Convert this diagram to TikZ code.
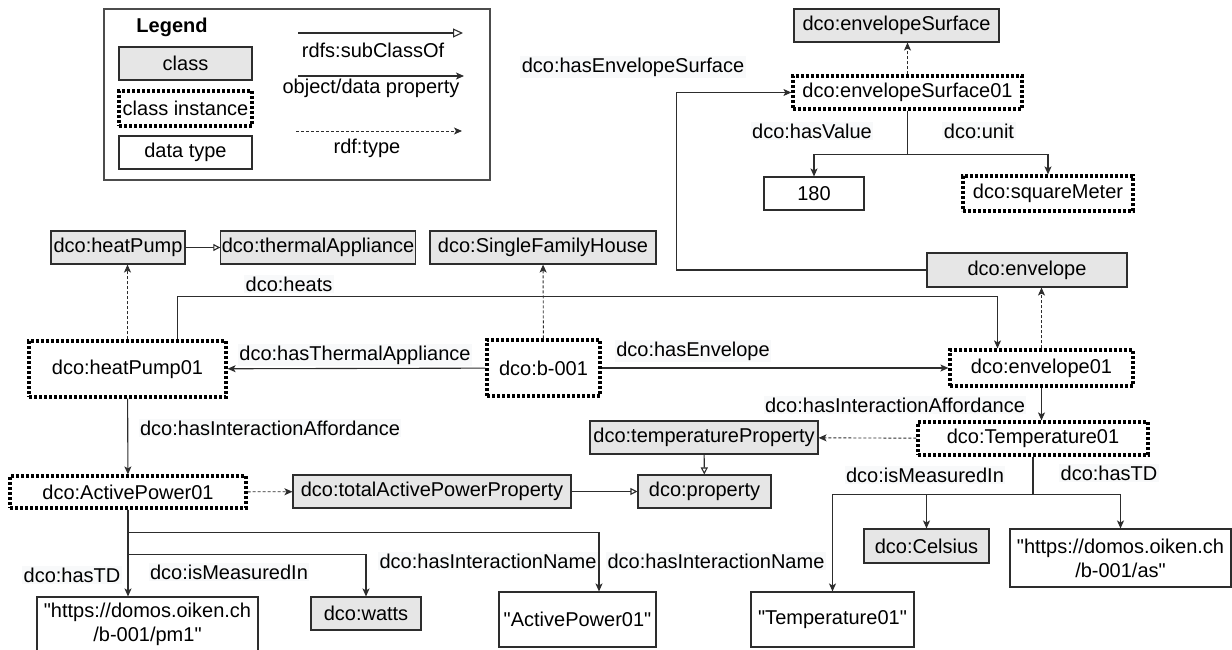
\documentclass[tikz,border=0pt]{standalone}
\usepackage{fontspec}
\setmainfont{Liberation Sans}
\usepackage{xcolor}
\usepackage{tikz}
\usetikzlibrary{arrows.meta}
\definecolor{classgray}{RGB}{230,230,230}
\definecolor{edgegray}{RGB}{45,45,45}
\definecolor{labelbg}{RGB}{248,249,250}
\tikzset{
  box/.style={draw=edgegray,line width=1.1pt,inner sep=1pt,align=center},
  classbox/.style={box,fill=classgray},
  instbox/.style={box,draw=black,line width=3.2pt,dash pattern=on 3pt off 2pt,fill=white},
  typebox/.style={box,fill=white},
  proplabel/.style={fill=labelbg,inner sep=1.5pt},
  objprop/.style={draw=edgegray,line width=1.1pt,-{Stealth[length=8pt,width=7pt,inset=2pt]}},
  rdftype/.style={objprop,line width=0.9pt,dash pattern=on 3pt off 2pt},
  subclass/.style={draw=edgegray,line width=1.1pt,-{Triangle[open,length=7pt,width=7pt,fill=white]}},
}
\newcommand{\qq}{\textquotedbl}

\begin{document}
\begin{tikzpicture}[x=1pt,y=-1pt,font=\fontsize{20}{24}\selectfont]
  \useasboundingbox (0,0) rectangle (1232,650);

  % legend
  \draw[draw=black!70,line width=1.1pt] (104,9) rectangle (490,180);
  \node[font={\fontsize{20}{24}\selectfont\bfseries}] (legendtitle) at (172,27) {Legend};
  \node[classbox,minimum width=133pt,minimum height=33pt] (keyclass) at (185.5,63.5) {class};
  \node[instbox,minimum width=133pt,minimum height=35pt] (keyinst) at (185.5,108.5) {class instance};
  \node[typebox,minimum width=133pt,minimum height=33pt] (keytype) at (185.5,152.5) {data type};
  \coordinate (subA) at (298,33);
  \coordinate (subB) at (463,33);
  \coordinate (propA) at (298,76);
  \coordinate (propB) at (464,76);
  \coordinate (typeA) at (296,131);
  \coordinate (typeB) at (462,131);
  \draw[subclass,-{Triangle[open,length=10pt,width=9pt,fill=white]}] (subA) -- (subB);
  \draw[objprop] (propA) -- (propB);
  \draw[rdftype] (typeA) -- (typeB);
  \node (keysub) at (373,50) {rdfs:subClassOf};
  \node (keyprop) at (371,88) {object/data property};
  \node (keyrdf) at (367,148) {rdf:type};

  % classes, instances and data values
  \node[classbox,minimum width=205pt,minimum height=33pt] (esurf) at (896.5,25.5) {dco:envelopeSurface};
  \node[instbox,minimum width=229pt,minimum height=33pt] (esurf01) at (907.5,92.5) {dco:envelopeSurface01};
  \node[typebox,minimum width=100pt,minimum height=33pt] (val180) at (814,193.5) {180};
  \node[instbox,minimum width=170pt,minimum height=35pt] (sqmeter) at (1048,193.5) {dco:squareMeter};
  \node[classbox,minimum width=134pt,minimum height=33pt] (hpump) at (118,247.5) {dco:heatPump};
  \node[classbox,minimum width=194pt,minimum height=33pt] (thermal) at (318,247.5) {dco:thermalAppliance};
  \node[classbox,minimum width=226pt,minimum height=33pt] (sfhouse) at (543,247.5) {dco:SingleFamilyHouse};
  \node[classbox,minimum width=200pt,minimum height=34pt] (envelope) at (1027,270) {dco:envelope};
  \node[instbox,minimum width=197pt,minimum height=56pt] (hpump01) at (127.5,369) {dco:heatPump01};
  \node[instbox,minimum width=113pt,minimum height=56pt] (b001) at (543.5,368) {dco:b-001};
  \node[instbox,minimum width=183pt,minimum height=36pt] (env01) at (1041.5,368) {dco:envelope01};
  \node[classbox,minimum width=228pt,minimum height=33pt] (tempprop) at (704,437.5) {dco:temperatureProperty};
  \node[instbox,minimum width=230pt,minimum height=33pt] (temp01) at (1033,438.5) {dco:Temperature01};
  \node[instbox,minimum width=236pt,minimum height=32pt] (apower01) at (128,492) {dco:ActivePower01};
  \node[classbox,minimum width=278pt,minimum height=33pt] (totalprop) at (432,491.5) {dco:totalActivePowerProperty};
  \node[classbox,minimum width=133pt,minimum height=33pt] (property) at (704.5,491.5) {dco:property};
  \node[classbox,minimum width=125pt,minimum height=34pt] (celsius) at (926.5,546) {dco:Celsius};
  \node[typebox,minimum width=221pt,minimum height=58pt] (tdas) at (1120.5,558) {\qq https://domos.oiken.ch\\/b-001/as\qq};
  \node[classbox,minimum width=110pt,minimum height=33pt] (watts) at (366,613.5) {dco:watts};
  \node[typebox,minimum width=157pt,minimum height=55pt] (apname) at (577.5,619.5) {\qq ActivePower01\qq};
  \node[typebox,minimum width=163pt,minimum height=55pt] (tempname) at (832.5,619.5) {\qq Temperature01\qq};
  \node[typebox,minimum width=221pt,minimum height=54pt] (tdpm) at (147.5,624) {\qq https://domos.oiken.ch\\/b-001/pm1\qq};

  % connectors
  \draw[subclass] (hpump) -- (thermal);
  \draw[subclass] (totalprop) -- (property);
  \draw[subclass] (tempprop) -- (property);
  \draw[rdftype] (esurf01.north) -- (esurf01.north |- esurf.south);
  \draw[rdftype] (hpump01.north) -- (hpump01.north |- hpump.south);
  \draw[rdftype] (b001) -- (sfhouse);
  \draw[rdftype] (env01.north) -- (env01.north |- envelope.south);
  \draw[rdftype] (temp01) -- (tempprop);
  \draw[rdftype] (apower01) -- (totalprop);
  \draw[objprop] (envelope.west) -- ++(-250,0) |- (esurf01.west);
  \draw[objprop] (esurf01.south) -- ++(0,44) -| (val180.north);
  \draw[objprop] (esurf01.south) -- ++(0,44) -| (sqmeter.north);
  \draw[objprop] ([xshift=50pt]hpump01.north) -- ++(0,-43) -| ([xshift=-44pt]env01.north);
  \draw[objprop] (b001) -- (hpump01);
  \draw[objprop] (b001) -- (env01);
  \draw[objprop] (hpump01) -- (apower01);
  \draw[objprop] (env01.south) -- (env01.south |- temp01.north);
  \draw[objprop] (apower01.south) -- (apower01.south |- tdpm.north);
  \draw[objprop] (apower01.south) -- ++(0,45) -| (watts.north);
  \draw[objprop] (apower01.south) -- ++(0,23) -| ([xshift=21.5pt]apname.north);
  \draw[objprop] (temp01.south) -- ++(0,38) -| (tempname.north);
  \draw[objprop] (temp01.south) -- ++(0,38) -| (celsius.north);
  \draw[objprop] (temp01.south) -- ++(0,38) -| (tdas.north);

  % property labels
  \node[proplabel] (lblsurface) at (633,67) {dco:hasEnvelopeSurface};
  \node[proplabel] (lblvalue) at (812,131) {dco:hasValue};
  \node[proplabel] (lblunit) at (979,131) {dco:unit};
  \node[proplabel] (lblheats) at (289,284) {dco:heats};
  \node[proplabel] (lblthermal) at (355,355) {dco:hasThermalAppliance};
  \node[proplabel] (lblenvelope) at (693,351) {dco:hasEnvelope};
  \node[proplabel] (lblaffordA) at (270,428) {dco:hasInteractionAffordance};
  \node[proplabel] (lblaffordB) at (895,405) {dco:hasInteractionAffordance};
  \node[proplabel] (lbltdA) at (72,575) {dco:hasTD};
  \node[proplabel] (lblunitA) at (229,572) {dco:isMeasuredIn};
  \node[proplabel] (lblnameA) at (488,561) {dco:hasInteractionName};
  \node[proplabel] (lblnameB) at (716,561) {dco:hasInteractionName};
  \node[proplabel] (lblunitB) at (925,475) {dco:isMeasuredIn};
  \node[proplabel] (lbltdB) at (1109,473) {dco:hasTD};
\end{tikzpicture}
\end{document}
